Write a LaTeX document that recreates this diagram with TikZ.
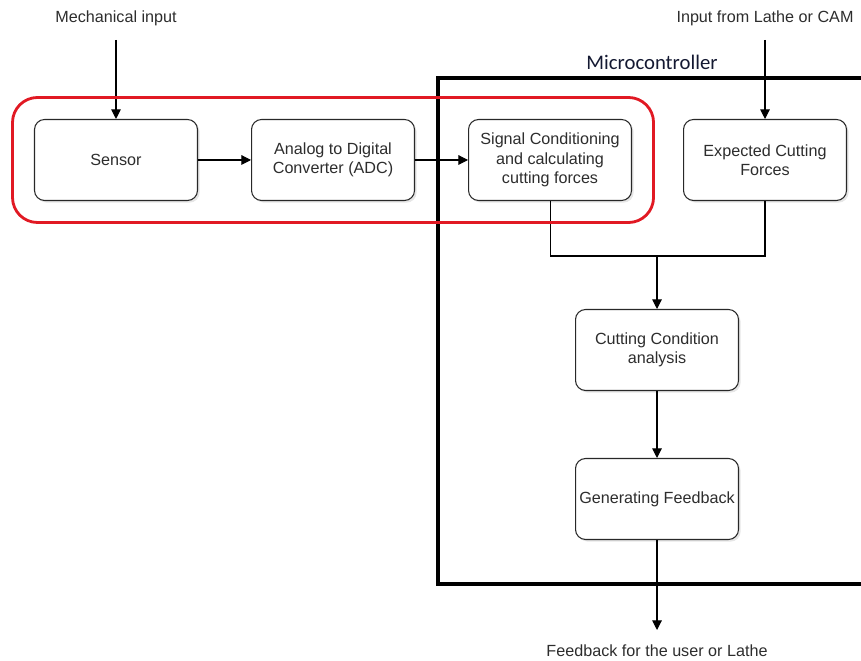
\documentclass[tikz,border=0pt]{standalone}
\usepackage{fontspec}
\setmainfont{Liberation Sans}
\newfontfamily\calibrifont{Carlito}
\usetikzlibrary{arrows.meta, positioning, shadows, fit}

\definecolor{txtgray}{RGB}{45,45,45}
\definecolor{linegray}{RGB}{40,40,40}
\definecolor{groupred}{RGB}{225,25,35}
\definecolor{mcunavy}{RGB}{20,25,50}

\begin{document}
\begin{tikzpicture}[
		x=0.02cm, y=-0.02cm,
		node distance=1.06cm,
		every node/.style={font=\fontsize{9.2}{11}\selectfont, text=txtgray},
		block/.style={draw=linegray, line width=0.6pt, rounded corners=0.2cm, fill=white,
			minimum width=3.26cm, minimum height=1.62cm, inner sep=1pt, align=center,
			drop shadow={opacity=0.2, shadow xshift=1.2pt, shadow yshift=-1.2pt}},
		iotext/.style={inner sep=1pt},
		flow/.style={-{Triangle[length=5.5pt, width=5.5pt]}, line width=0.6pt, black},
		wire/.style={line width=0.6pt, black}
		]
		\clip (0,0) rectangle (861,661);
		% Microcontroller frame
		\draw[line width=1.8pt] (438,78) rectangle (880,584);
		\node[font=\calibrifont\fontsize{11.8}{13}\selectfont, text=mcunavy] (mcu) at (652,62) {Microcontroller};
		
		% Blocks
		\node[block] at (116,160) (sensor) {Sensor};
		\node[block, right = of sensor] (adc) {Analog to Digital\\Converter (ADC)};
		\node[block, right = of adc] (signal) {Signal Conditioning\\and calculating\\cutting forces};
		\node[block] at (765,160) (expected) {Expected Cutting\\Forces};
		\node[block] at (657,350) (cutting) {Cutting Condition\\analysis};
		\node[block] at (657,499) (feedback) {Generating Feedback};
		
		% Inputs and output
		\node[iotext] at (116,18) (mech) {Mechanical input};
		\node[iotext] at (765,18) (lathe) {Input from Lathe or CAM};
		\node[iotext] at (657,651) (out) {Feedback for the user or Lathe};
		\coordinate (mechend) at (116,40);
		\coordinate (latheend) at (765,40);
		\coordinate (outend) at (657,630);
		\coordinate (join) at (657,256);
		
		% Signal flow
		\draw[flow] (mechend) -- (sensor);
		\draw[flow] (latheend) -- (expected);
		\draw[flow] (sensor) -- (adc);
		\draw[flow] (adc) -- (signal);
		\draw[wire] (signal.south) |- (join);
		\draw[wire] (expected.south) |- (join);
		\draw[flow] (join) -- (cutting);
		\draw[flow] (cutting) -- (feedback);
		\draw[flow] (feedback) -- (outend);
		
		% Group highlight
		\node[draw=groupred, line width=1.6pt, rounded corners=0.5cm, inner sep=0.43cm, fit=(sensor)(signal)] (group) {};
	\end{tikzpicture}
\end{document}
